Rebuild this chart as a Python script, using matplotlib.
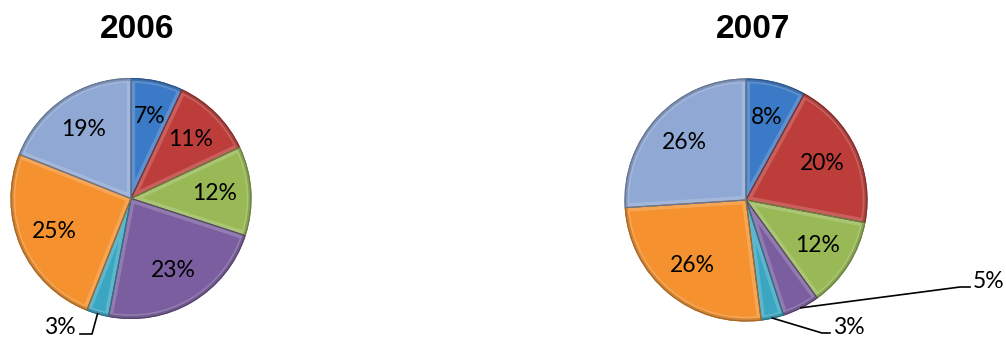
"""
Two pie charts, 2006 vs 2007 share by segment.
"""
import numpy as np
import matplotlib
matplotlib.use("Agg")
import matplotlib.pyplot as plt
from matplotlib.patches import Wedge
from matplotlib.colors import to_rgb

# slice shares in percent, clockwise from 12 o'clock
years = ["2006", "2007"]
share_2006 = [7, 11, 12, 23, 3, 25, 19]
share_2007 = [8, 20, 12, 5, 3, 26, 26]
colors = ["#3B7AC6", "#BD3D3A", "#98B955", "#7B5E9F", "#3BA6C2", "#F5922F", "#8FA8D4"]

LABEL_FONT = ["Lato", "DejaVu Sans"]

W, H = 1006, 338
fig = plt.figure(figsize=(W / 100, H / 100), dpi=100)
ax = fig.add_axes([0, 0, 1, 1])


def shade(c, f):
    r, g, b = to_rgb(c)
    if f < 1:
        return (r * f, g * f, b * f)
    return tuple(v + (1 - v) * (f - 1) for v in (r, g, b))


def draw_pie(values, center, radius, outside):
    wedges, _ = ax.pie(values, colors=colors, startangle=90, counterclock=False,
                       center=center, radius=radius,
                       wedgeprops=dict(linewidth=0.8))
    for w, c in zip(wedges, colors):
        w.set_edgecolor(shade(c, 0.7))
        # bevel: light band inside the edges, darker outer rim
        hl = Wedge(w.center, w.r, w.theta1, w.theta2, facecolor="none",
                   edgecolor="white", alpha=0.18, linewidth=6)
        ax.add_patch(hl)
        hl.set_clip_path(w)
        rim = Wedge(w.center, w.r, w.theta1, w.theta2, width=2.5,
                    facecolor=shade(c, 0.75), edgecolor="none", alpha=0.6)
        ax.add_patch(rim)
        rim.set_clip_path(w)
        edge = Wedge(w.center, w.r, w.theta1, w.theta2, facecolor="none",
                     edgecolor=shade(c, 0.7), linewidth=0.8)
        ax.add_patch(edge)

    for i, (w, v) in enumerate(zip(wedges, values)):
        mid = np.deg2rad((w.theta1 + w.theta2) / 2)
        cx, cy = w.center
        if i in outside:
            elbow, end, ha = outside[i]
            ax.plot([cx + radius * np.cos(mid), elbow[0], end[0]],
                    [cy + radius * np.sin(mid), elbow[1], end[1]],
                    color="black", linewidth=1.2, solid_joinstyle="miter")
            tx = end[0] + (3 if ha == "left" else -4)
            ax.text(tx, end[1] + 6, f"{v}%", ha=ha, va="center",
                    fontsize=16.5, family=LABEL_FONT)
        else:
            r = 0.7 * radius
            ax.text(cx + r * np.cos(mid), cy + r * np.sin(mid), f"{v}%",
                    ha="center", va="center", fontsize=16.5, family=LABEL_FONT)


draw_pie(share_2006, (131, 139.5), 120,
         {4: ((92, 4), (80, 4), "right")})
draw_pie(share_2007, (746, 138), 121,
         {3: ((960, 51), (970, 51), "left"),
          4: ((822, 5), (830, 5), "left")})

ax.text(137.5, 308, years[0], ha="center", va="center", fontsize=24,
        fontweight="bold", family="Liberation Sans")
ax.text(753, 308, years[1], ha="center", va="center", fontsize=24,
        fontweight="bold", family="Liberation Sans")

ax.set_xlim(0, W)
ax.set_ylim(0, H)
ax.set_aspect("equal")
ax.axis("off")

fig.savefig("out.png", dpi=100)
